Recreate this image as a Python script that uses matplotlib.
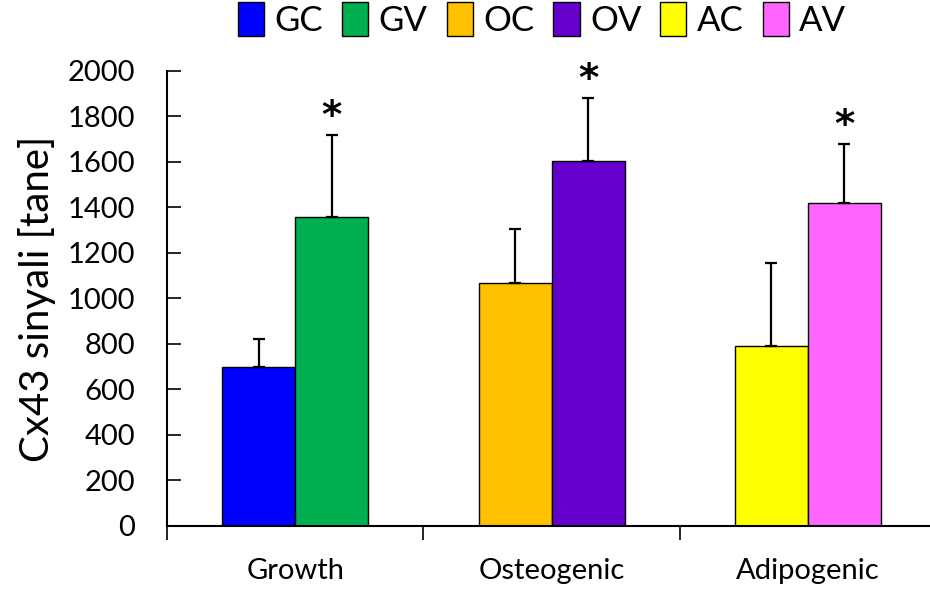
import matplotlib
matplotlib.use("Agg")
import matplotlib.pyplot as plt
from matplotlib.patches import Patch
import numpy as np

# Data
groups = ["Growth", "Osteogenic", "Adipogenic"]
series = ["GC", "GV", "OC", "OV", "AC", "AV"]
means = [700, 1360, 1070, 1605, 790, 1420]
errors = [120, 358, 236, 278, 366, 258]
significant = [False, True, False, True, False, True]
colors = ["#0000FF", "#00B050", "#FFC000", "#6600CC", "#FFFF00", "#FF66FF"]
yticks = [0, 200, 400, 600, 800, 1000, 1200, 1400, 1600, 1800, 2000]
ylabel = "Cx43 sinyali [tane]"

plt.rcParams["font.family"] = ["Lato", "DejaVu Sans"]

fig = plt.figure(figsize=(9.3, 5.91), dpi=100)
ax = fig.add_axes([0.1796, 0.110, 0.827, 0.770])

width = 0.285
x = []
for i in range(len(groups)):
    x += [i + 0.5 - width / 2, i + 0.5 + width / 2]
x = np.array(x)

ax.bar(x, means, width=width, color=colors, edgecolor="black", linewidth=1.0, zorder=2)
ax.errorbar(x, means, yerr=[np.zeros(len(errors)), errors], fmt="none",
            ecolor="black", elinewidth=1.6, capsize=4, capthick=1.6, zorder=3)

# significance markers above the error bars
for xi, m, e, s in zip(x, means, errors, significant):
    if s:
        ax.text(xi, m + e - 5, "*", ha="center", va="bottom", fontsize=28,
                fontweight="bold", family="DejaVu Sans")

ax.set_xlim(0, 3)
ax.set_ylim(0, 2000)
ax.set_yticks(yticks)
ax.set_yticklabels([str(t) for t in yticks], fontsize=21)
ax.tick_params(axis="y", direction="in", length=10, width=1.2, pad=23)

ax.set_xticks([0, 1, 2, 3])
ax.set_xticklabels([])
ax.set_xticks([0.5, 1.5, 2.5], minor=True)
ax.set_xticklabels(groups, minor=True, fontsize=21)
ax.tick_params(axis="x", which="major", direction="out", length=10, width=1.2)
ax.tick_params(axis="x", which="minor", length=0, pad=23)

for side in ["top", "right"]:
    ax.spines[side].set_visible(False)
for side in ["left", "bottom"]:
    ax.spines[side].set_linewidth(1.5)

ax.set_ylabel(ylabel, fontsize=29, labelpad=8)

handles = [Patch(facecolor=c, edgecolor="black", linewidth=1.0) for c in colors]
fig.legend(handles, series, loc="upper center", bbox_to_anchor=(0.583, 1.049),
           ncol=6, frameon=False, fontsize=25, handlelength=0.75, handleheight=1.1,
           handletextpad=0.3, columnspacing=0.55)

fig.savefig("out.png", dpi=100)
